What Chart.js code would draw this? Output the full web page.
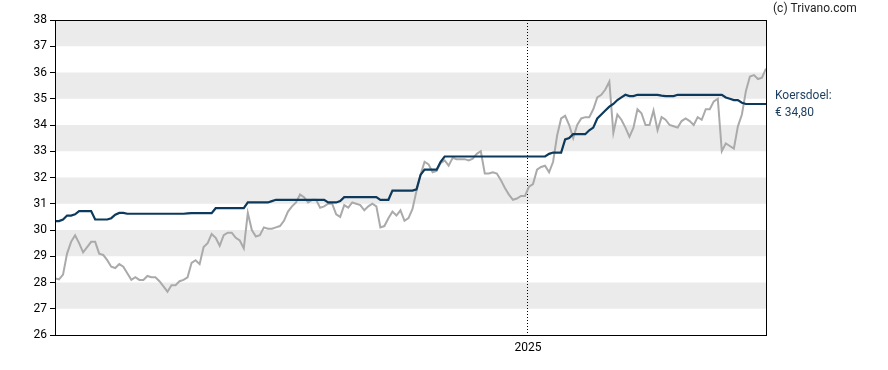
<!DOCTYPE html>
<html>
<head>
<meta charset="utf-8">
<script src="https://cdn.jsdelivr.net/npm/chart.js@4/dist/chart.umd.min.js"></script>
<style>
  html, body { margin: 0; padding: 0; background: #fff; }
</style>
</head>
<body>
<canvas id="chart" width="888" height="370"></canvas>
<script>
// --- DATA (share price vs. analyst target, one point every few trading days) ---
const price = [
  28.15, 28.12, 28.3, 29.1, 29.55, 29.8, 29.5, 29.15, 29.35, 29.55,
  29.55, 29.1, 29.05, 28.85, 28.6, 28.55, 28.7, 28.6, 28.35, 28.1,
  28.2, 28.1, 28.1, 28.25, 28.2, 28.2, 28.05, 27.85, 27.65, 27.9,
  27.9, 28.05, 28.1, 28.2, 28.75, 28.85, 28.7, 29.35, 29.5, 29.85,
  29.7, 29.4, 29.8, 29.9, 29.9, 29.7, 29.6, 29.3, 30.65, 30.0,
  29.75, 29.8, 30.1, 30.05, 30.05, 30.1, 30.15, 30.35, 30.7, 30.9,
  31.05, 31.35, 31.25, 31.05, 31.15, 31.15, 30.85, 30.9, 31.0, 31.0,
  30.6, 30.5, 30.95, 30.85, 31.05, 31.0, 30.95, 30.75, 30.9, 31.0,
  30.9, 30.1, 30.15, 30.45, 30.7, 30.55, 30.75, 30.35, 30.45, 30.8,
  31.5, 32.1, 32.6, 32.5, 32.2, 32.25, 32.55, 32.65, 32.45, 32.75,
  32.7, 32.7, 32.7, 32.65, 32.72, 32.9, 33.0, 32.15, 32.15, 32.2,
  32.15, 31.9, 31.6, 31.35, 31.15, 31.2, 31.3, 31.3, 31.65, 31.75,
  32.3, 32.4, 32.45, 32.2, 32.6, 33.6, 34.25, 34.35, 34.0, 33.5,
  34.0, 34.25, 34.3, 34.3, 34.6, 35.05, 35.15, 35.35, 35.65, 33.7,
  34.4, 34.2, 33.9, 33.55, 33.9, 34.6, 34.45, 34.0, 34.0, 34.55,
  33.8, 34.3, 34.2, 34.0, 33.95, 33.9, 34.15, 34.25, 34.15, 34.0,
  34.3, 34.2, 34.6, 34.6, 34.9, 35.0, 33.0, 33.3, 33.2, 33.1,
  33.95, 34.4, 35.3, 35.85, 35.9, 35.75, 35.8, 36.15
];

const target = [
  30.34, 30.34, 30.4, 30.55, 30.55, 30.6, 30.72, 30.72, 30.72, 30.72,
  30.4, 30.4, 30.4, 30.4, 30.45, 30.58, 30.65, 30.65, 30.62, 30.62,
  30.62, 30.62, 30.62, 30.62, 30.62, 30.62, 30.62, 30.62, 30.62, 30.62,
  30.62, 30.62, 30.62, 30.63, 30.64, 30.64, 30.64, 30.64, 30.64, 30.64,
  30.83, 30.83, 30.83, 30.83, 30.83, 30.83, 30.83, 30.83, 31.05, 31.05,
  31.05, 31.05, 31.05, 31.05, 31.1, 31.15, 31.15, 31.15, 31.15, 31.15,
  31.15, 31.15, 31.15, 31.15, 31.15, 31.15, 31.15, 31.15, 31.05, 31.05,
  31.05, 31.1, 31.25, 31.25, 31.25, 31.25, 31.25, 31.25, 31.25, 31.25,
  31.25, 31.15, 31.15, 31.15, 31.5, 31.5, 31.5, 31.5, 31.5, 31.5,
  31.55, 32.1, 32.3, 32.3, 32.3, 32.3, 32.6, 32.8, 32.8, 32.8,
  32.8, 32.8, 32.8, 32.8, 32.8, 32.8, 32.8, 32.8, 32.8, 32.8,
  32.8, 32.8, 32.8, 32.8, 32.8, 32.8, 32.8, 32.8, 32.8, 32.8,
  32.8, 32.8, 32.8, 32.9, 32.95, 32.95, 32.95, 33.45, 33.5, 33.65,
  33.65, 33.65, 33.65, 33.8, 33.9, 34.25, 34.4, 34.55, 34.7, 34.8,
  34.95, 35.05, 35.15, 35.1, 35.1, 35.15, 35.15, 35.15, 35.15, 35.15,
  35.15, 35.12, 35.1, 35.1, 35.1, 35.15, 35.15, 35.15, 35.15, 35.15,
  35.15, 35.15, 35.15, 35.15, 35.15, 35.15, 35.15, 35.05, 35.0, 34.95,
  34.95, 34.85, 34.8, 34.8, 34.8, 34.8, 34.8, 34.8
];

// x ticks: only the year boundary is labelled
const xTickPos = [117.75];
const xTickLabels = ['2025'];

const yMin = 26, yMax = 38;
const targetLabel = ['Koersdoel:', '€ 34,80'];
const targetValue = 34.80;
const credit = '(c) Trivano.com';

// --- PLUGIN: grey bands, frame, side labels ---
const decor = {
  id: 'decor',
  beforeDraw(chart) {
    const { ctx, chartArea: a, scales: { y } } = chart;
    ctx.save();
    ctx.fillStyle = '#ebebeb';
    for (let v = yMin + 1; v < yMax; v += 2) {
      const top = y.getPixelForValue(v + 1);
      const bot = y.getPixelForValue(v);
      ctx.fillRect(a.left, top, a.right - a.left, bot - top);
    }
    ctx.restore();
  },
  afterDraw(chart) {
    const { ctx, chartArea: a, scales: { y } } = chart;
    ctx.save();
    ctx.strokeStyle = '#000';
    ctx.lineWidth = 1;
    ctx.strokeRect(Math.round(a.left) + 0.5, Math.round(a.top) + 0.5,
      Math.round(a.right - a.left), Math.round(a.bottom - a.top));

    ctx.font = '12px Roboto, sans-serif';
    ctx.textBaseline = 'middle';
    ctx.textAlign = 'left';
    ctx.fillStyle = '#222';
    ctx.fillText(credit, a.right + 7, 9);

    const ty = y.getPixelForValue(targetValue);
    ctx.fillStyle = '#1b3d5e';
    ctx.fillText(targetLabel[0], a.right + 9, ty - 8);
    ctx.fillText(targetLabel[1], a.right + 9, ty + 9);
    ctx.restore();
  }
};

// --- CHART ---
Chart.defaults.font.family = 'Roboto, sans-serif';

const ctx = document.getElementById('chart').getContext('2d');
const chart = new Chart(ctx, {
  type: 'line',
  data: {
    datasets: [
      {
        label: 'Koersdoel',
        data: target.map((v, i) => ({ x: i, y: v })),
        borderColor: '#0d3a5c',
        borderWidth: 2.2,
        pointRadius: 0,
        tension: 0
      },
      {
        label: 'Koers',
        data: price.map((v, i) => ({ x: i, y: v })),
        borderColor: '#aaaaaa',
        borderWidth: 2,
        pointRadius: 0,
        tension: 0
      }
    ]
  },
  options: {
    responsive: false,
    animation: false,
    layout: { padding: { left: 0, right: 122, top: 20, bottom: 0 } },
    plugins: { legend: { display: false }, tooltip: { enabled: false } },
    scales: {
      x: {
        type: 'linear',
        min: 0,
        max: price.length - 1,
        afterBuildTicks: s => { s.ticks = xTickPos.map(v => ({ value: v })); },
        afterFit: s => { s.height = 35; },
        ticks: {
          color: '#000',
          font: { size: 12 },
          padding: 6,
          maxRotation: 0,
          autoSkip: false,
          callback: v => xTickLabels[xTickPos.indexOf(v)]
        },
        grid: { color: '#000', lineWidth: 1, drawTicks: false },
        border: { display: false, dash: [1, 2] }
      },
      y: {
        min: yMin,
        max: yMax,
        afterFit: s => { s.width = 55; },
        ticks: { stepSize: 1, color: '#000', font: { size: 12 }, padding: 3 },
        grid: { drawOnChartArea: false, color: '#000', tickLength: 5 },
        border: { display: false }
      }
    }
  },
  plugins: [decor]
});
</script>
</body>
</html>
